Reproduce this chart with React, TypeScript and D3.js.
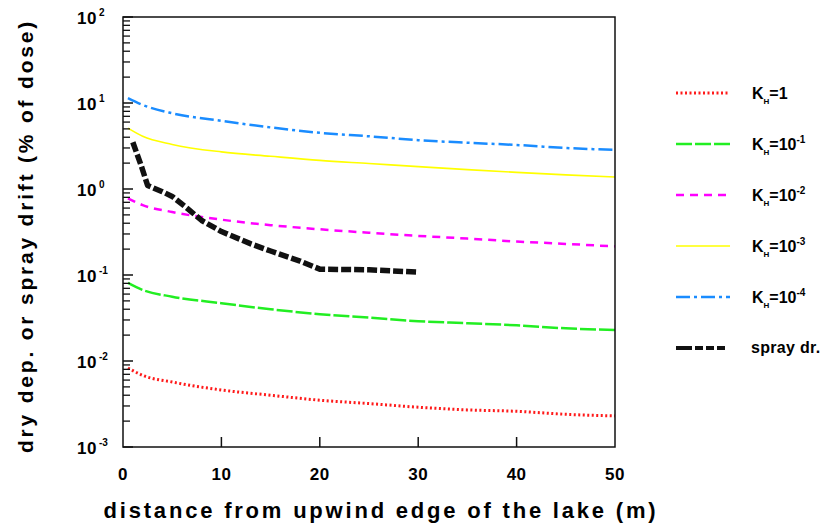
import * as d3 from "d3";

// distances along the lake (m)
const xs = [0.5, 2, 5, 10, 15, 20, 25, 30, 35, 40, 45, 50];

// dry deposition (% of dose) for each Henry constant
const kh1 = [0.0083, 0.0068, 0.0057, 0.0046, 0.004, 0.0035, 0.0032, 0.0029, 0.0027, 0.0026, 0.0024, 0.0023];
const kh1e1 = [0.081, 0.067, 0.056, 0.047, 0.04, 0.035, 0.032, 0.029, 0.0275, 0.026, 0.024, 0.023];
const kh1e2 = [0.78, 0.65, 0.54, 0.44, 0.38, 0.34, 0.31, 0.285, 0.265, 0.245, 0.23, 0.215];
const kh1e3 = [5.1, 4.1, 3.3, 2.7, 2.4, 2.15, 1.98, 1.82, 1.68, 1.56, 1.46, 1.38];
const kh1e4 = [11.4, 9.5, 7.6, 6.2, 5.2, 4.5, 4.1, 3.7, 3.45, 3.25, 3.0, 2.85];

// spray drift
const sprayX = [1, 1.9, 2.5, 4, 5, 6.5, 8, 10, 13, 15, 18, 20, 25, 30];
const sprayY = [3.5, 1.8, 1.1, 0.93, 0.82, 0.6, 0.43, 0.32, 0.23, 0.19, 0.145, 0.117, 0.115, 0.108];

const xTicks = [0, 10, 20, 30, 40, 50];
const yExps = [2, 1, 0, -1, -2, -3];

const series = [
  { name: "1", sup: "", x: xs, y: kh1, color: "#ff1a1a", width: 3, dash: "2,2.5" },
  { name: "10", sup: "-1", x: xs, y: kh1e1, color: "#22ee22", width: 2.5, dash: "16,3" },
  { name: "10", sup: "-2", x: xs, y: kh1e2, color: "#ff00ff", width: 2.5, dash: "8,6" },
  { name: "10", sup: "-3", x: xs, y: kh1e3, color: "#ffff00", width: 1.6, dash: "" },
  { name: "10", sup: "-4", x: xs, y: kh1e4, color: "#1a8cff", width: 2.5, dash: "14,4,3,4" },
];

const left = 123, right = 615, top = 17, bottom = 447;

export default function App() {
  const x = d3.scaleLinear().domain([0, 50]).range([left, right]);
  const y = d3.scaleLog().domain([1e-3, 1e2]).range([bottom, top]);

  const line = d3
    .line<[number, number]>()
    .x((d) => x(d[0]))
    .y((d) => y(d[1]))
    .curve(d3.curveMonotoneX);

  const sprayLine = d3
    .line<[number, number]>()
    .x((d) => x(d[0]))
    .y((d) => y(d[1]));

  const minor: number[] = [];
  for (let e = -3; e < 2; e++) {
    for (let m = 2; m < 10; m++) minor.push(m * Math.pow(10, e));
  }

  const font = "'Liberation Sans', Arial, sans-serif";
  const legY = (i: number) => 93 + i * 51;

  return (
    <svg
      width={835}
      height={526}
      style={{ position: "absolute", left: 0, top: 0, background: "#fff" }}
      fontFamily={font}
      fontWeight="bold"
    >
      {/* data */}
      {series.map((s, i) => (
        <path
          key={i}
          d={line(s.x.map((v, j) => [v, s.y[j]]) as [number, number][]) || ""}
          fill="none"
          stroke={s.color}
          strokeWidth={s.width}
          strokeDasharray={s.dash}
        />
      ))}
      <path
        d={sprayLine(sprayX.map((v, j) => [v, sprayY[j]]) as [number, number][]) || ""}
        fill="none"
        stroke="#111"
        strokeWidth={5.5}
        strokeDasharray="10,3"
        strokeLinejoin="round"
      />

      {/* frame */}
      <rect x={left} y={top} width={right - left} height={bottom - top} fill="none" stroke="#111" strokeWidth={1.5} />

      {/* y ticks */}
      {yExps.map((e) => (
        <line key={"ym" + e} x1={left} x2={left + 10} y1={y(Math.pow(10, e))} y2={y(Math.pow(10, e))} stroke="#111" strokeWidth={1.5} />
      ))}
      {minor.map((v, i) => (
        <line key={"yn" + i} x1={left} x2={left + 7} y1={y(v)} y2={y(v)} stroke="#111" strokeWidth={1.3} />
      ))}
      {yExps.map((e) => (
        <g key={"yl" + e}>
          <text x={97} y={y(Math.pow(10, e)) + 7} textAnchor="end" fontSize={17} letterSpacing={0.5}>
            10
          </text>
          <text x={99} y={y(Math.pow(10, e)) - 1} fontSize={10}>
            {e}
          </text>
        </g>
      ))}

      {/* x ticks */}
      {xTicks.slice(1, -1).map((t) => (
        <line key={"xt" + t} x1={x(t)} x2={x(t)} y1={bottom} y2={bottom - 10} stroke="#111" strokeWidth={1.5} />
      ))}
      {xTicks.map((t) => (
        <text key={"xl" + t} x={x(t)} y={480} textAnchor="middle" fontSize={17} letterSpacing={0.5}>
          {t}
        </text>
      ))}

      {/* axis titles */}
      <text x={381} y={518} textAnchor="middle" fontSize={22} letterSpacing={2.8}>
        distance from upwind edge of the lake (m)
      </text>
      <text
        transform="translate(33,236) rotate(-90)"
        textAnchor="middle"
        fontSize={21}
        letterSpacing={2.8}
      >
        dry dep. or spray drift (% of dose)
      </text>

      {/* legend */}
      {series.map((s, i) => (
        <g key={"lg" + i}>
          <line x1={676} x2={730} y1={legY(i)} y2={legY(i)} stroke={s.color} strokeWidth={s.width} strokeDasharray={s.dash} />
          <text x={752} y={legY(i) + 6} fontSize={16}>
            K
            <tspan fontSize={8} dy={5}>H</tspan>
            <tspan dy={-5}>={s.name}</tspan>
            {s.sup && (
              <tspan fontSize={10} dy={-7}>
                {s.sup}
              </tspan>
            )}
          </text>
        </g>
      ))}
      <line x1={676} x2={730} y1={legY(5)} y2={legY(5)} stroke="#111" strokeWidth={4} strokeDasharray="16,3,8,3,8,3,8" />
      <text x={751} y={legY(5) + 5} fontSize={16} letterSpacing={0.3}>
        spray dr.
      </text>
    </svg>
  );
}
